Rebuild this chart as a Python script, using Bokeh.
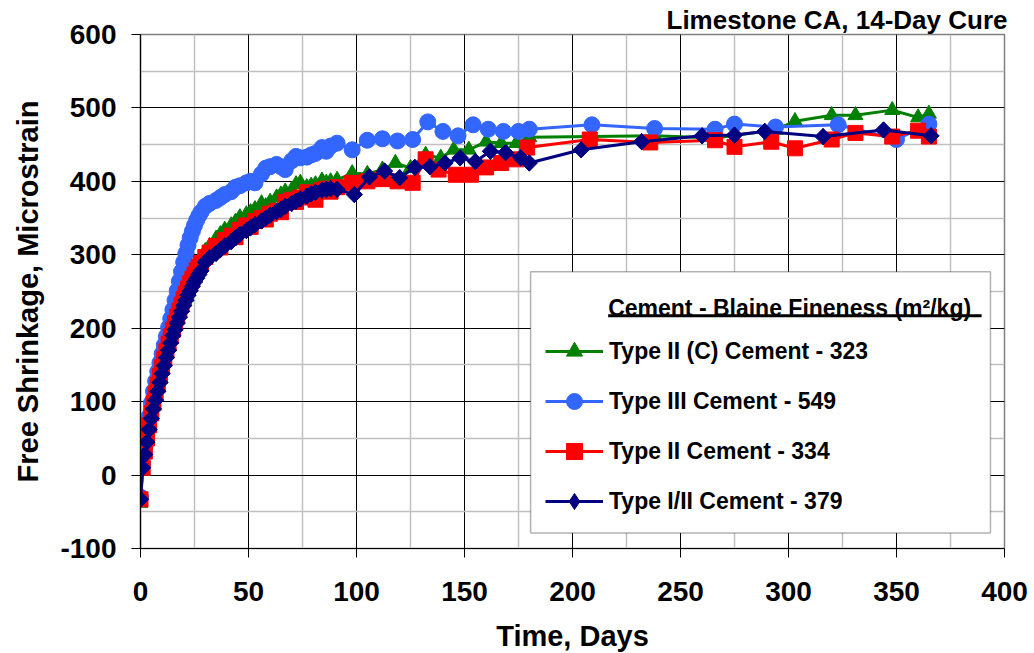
import math
from bokeh.plotting import figure
from bokeh.models import (Range1d, FixedTicker, Legend, LegendItem, Label, BoxAnnotation,
                          PrintfTickFormatter)
from bokeh.embed import file_html
from bokeh.resources import INLINE

# ---------------- data ----------------
x_ticks = [0, 50, 100, 150, 200, 250, 300, 350, 400]
y_ticks = [-100, 0, 100, 200, 300, 400, 500, 600]

chart_title = "Limestone CA, 14-Day Cure"
legend_title = "Cement - Blaine Fineness (m\u00b2/kg)"
series_names = [
    "Type II (C) Cement - 323",
    "Type III Cement - 549",
    "Type II Cement - 334",
    "Type I/II Cement - 379",
]

green_days = [0, 1, 2, 3, 4, 5, 6, 7, 8, 9, 10, 11, 12, 13, 14, 15, 16, 17, 18, 19, 20,
              21, 22, 23, 24, 25, 26, 27, 28, 30, 32, 35, 37, 39, 42, 44, 46, 49, 51, 53,
              56, 58, 60, 63, 65, 67, 70, 72, 74, 77, 79, 81, 84, 86, 88, 91, 98, 105, 112,
              118, 125, 132, 139, 145, 152, 160, 167, 174, 180, 209, 238, 266, 294, 303,
              320, 331, 348, 360, 365]
green_vals = [-38, 6, 28, 47, 65, 81, 96, 109, 121, 133, 145, 156, 167, 177, 187, 197, 206,
              215, 224, 232, 240, 248, 256, 263, 270, 277, 284, 290, 296, 305, 312, 322, 328,
              334, 340, 345, 351, 355, 358, 362, 370, 366, 372, 378, 382, 386, 388, 396, 398,
              392, 394, 396, 401, 398, 400, 402, 411, 410, 416, 425, 418, 436, 432, 443, 443,
              454, 452, 452, 460, 461, 462, 459, 470, 482, 490, 490, 497, 487, 492]

blue_days = [0, 1, 2, 3, 4, 5, 6, 7, 8, 9, 10, 11, 12, 13, 14, 15, 16, 17, 18, 19, 20,
             21, 22, 23, 24, 25, 26, 27, 28, 30, 32, 35, 37, 39, 42, 44, 46, 49, 51, 53,
             56, 58, 60, 63, 65, 67, 70, 72, 74, 77, 79, 81, 84, 86, 88, 91, 98, 105, 112,
             119, 126, 133, 140, 147, 154, 161, 168, 175, 180, 209, 238, 266, 275, 294,
             323, 350, 365]
blue_vals = [-30, 15, 38, 60, 80, 98, 114, 128, 141, 153, 165, 177, 189, 201, 213, 225, 238,
             251, 264, 277, 290, 302, 313, 323, 332, 340, 347, 353, 358, 366, 370, 374, 378,
             382, 386, 392, 394, 398, 400, 398, 410, 418, 420, 423, 420, 416, 428, 434, 432,
             433, 436, 438, 446, 441, 448, 452, 443, 456, 458, 455, 457, 481, 468, 462, 477,
             471, 468, 468, 471, 477, 472, 471, 478, 474, 477, 457, 478]

red_days = [0, 1, 2, 3, 4, 5, 6, 7, 8, 9, 10, 11, 12, 13, 14, 15, 16, 17, 18, 19, 20,
            21, 22, 23, 24, 25, 26, 27, 28, 30, 32, 35, 37, 39, 42, 44, 46, 49, 51, 53,
            56, 58, 60, 63, 65, 67, 70, 72, 74, 77, 79, 81, 84, 86, 88, 91, 98, 105, 112,
            119, 126, 132, 138, 146, 153, 160, 167, 174, 179, 208, 236, 266, 275, 292,
            303, 320, 331, 348, 360, 365]
red_vals = [-33, 10, 32, 50, 68, 84, 98, 111, 123, 135, 147, 158, 169, 179, 189, 198, 207,
            216, 224, 232, 240, 247, 254, 261, 267, 273, 279, 284, 289, 297, 303, 312, 310,
            320, 326, 324, 334, 340, 338, 346, 350, 348, 356, 360, 358, 372, 375, 372, 378,
            385, 380, 375, 388, 390, 386, 392, 398, 400, 403, 400, 398, 430, 416, 409, 409,
            419, 425, 430, 446, 457, 453, 456, 447, 454, 445, 457, 466, 461, 469, 461]

navy_days = [0, 1, 2, 3, 4, 5, 6, 7, 8, 9, 10, 11, 12, 13, 14, 15, 16, 17, 18, 19, 20,
             21, 22, 23, 24, 25, 26, 27, 28, 30, 32, 35, 37, 39, 42, 44, 46, 49, 51, 53,
             56, 58, 60, 63, 65, 67, 70, 72, 74, 77, 79, 81, 84, 86, 88, 91, 99, 106, 113,
             120, 127, 134, 141, 148, 155, 162, 169, 176, 180, 204, 232, 260, 275, 289,
             316, 344, 366]
navy_vals = [-33, 10, 28, 45, 62, 77, 90, 102, 114, 126, 138, 149, 160, 170, 180, 190, 198,
             207, 215, 223, 231, 238, 245, 251, 257, 263, 268, 273, 278, 290, 296, 302, 307,
             312, 318, 323, 328, 333, 337, 341, 346, 350, 354, 359, 362, 366, 370, 373, 376,
             380, 383, 385, 388, 389, 390, 389, 382, 406, 414, 405, 419, 420, 425, 432, 427,
             441, 439, 432, 425, 443, 454, 462, 463, 468, 461, 470, 462]

# ---------------- figure ----------------
FONT = "Liberation Sans"

p = figure(frame_width=864, frame_height=514,
           min_border_left=140, min_border_right=24, min_border_top=34, min_border_bottom=89,
           x_range=Range1d(0, 400), y_range=Range1d(-100, 600),
           output_backend="svg", toolbar_location=None,
           background_fill_color="white", border_fill_color="white")

p.title.text = chart_title
p.title.align = "right"
p.title.text_font = FONT
p.title.text_font_style = "bold"
p.title.text_font_size = "26px"
p.title.text_color = "black"
p.title.standoff = 0
p.title.offset = -3

p.xaxis.ticker = FixedTicker(ticks=x_ticks, minor_ticks=[25 + 50 * i for i in range(8)])
p.yaxis.ticker = FixedTicker(ticks=y_ticks, minor_ticks=[-50 + 100 * i for i in range(7)])
p.xaxis.formatter = PrintfTickFormatter(format="%d")
p.yaxis.formatter = PrintfTickFormatter(format="%d")

for g in (p.xgrid, p.ygrid):
    g.grid_line_color = "black"
    g.grid_line_width = 1
    g.minor_grid_line_color = "#c0c0c0"
    g.minor_grid_line_width = 1.5

p.outline_line_color = "#808080"
p.outline_line_width = 1.5

for ax in (p.xaxis, p.yaxis):
    ax.axis_line_color = "black"
    ax.axis_line_width = 1.2
    ax.major_tick_out = 9
    ax.major_tick_in = 0
    ax.major_tick_line_color = "black"
    ax.minor_tick_out = 0
    ax.minor_tick_in = 0
    ax.major_label_text_font = FONT
    ax.major_label_text_font_style = "bold"
    ax.major_label_text_font_size = "28px"
    ax.major_label_text_color = "black"
    ax.axis_label_text_font = FONT
    ax.axis_label_text_font_style = "bold"
    ax.axis_label_text_font_size = "29px"
    ax.axis_label_text_color = "black"

p.xaxis.axis_label = "Time, Days"
p.yaxis.axis_label = "Free Shrinkage, Microstrain"
p.xaxis.major_label_standoff = 24
p.yaxis.major_label_standoff = 15
p.xaxis.axis_label_standoff = 16
p.yaxis.axis_label_standoff = 13

# ---------------- series ----------------
specs = [
    (green_days, green_vals, "#008000", "triangle", 15, 0.0, None),
    (blue_days, blue_vals, "#3366FF", "circle", 16, 0.0, None),
    (red_days, red_vals, "#FF0000", "square", 15, 0.0, None),
    (navy_days, navy_vals, "#000080", "square", 11.5, math.pi / 4, "diamond"),
]

items = []
for (xs, ys, col, mk, sz, ang, leg_mk), name in zip(specs, series_names):
    ln = p.line(xs, ys, line_color=col, line_width=3)
    rends = [ln]
    if leg_mk is not None:
        # diamond glyph under the rotated squares, used as the legend sample
        under = p.scatter(xs, ys, marker=leg_mk, size=16, fill_color=col, line_color=col)
        rends.append(under)
    sc = p.scatter(xs, ys, marker=mk, size=sz, angle=ang,
                   fill_color=col, line_color=col, line_width=1)
    if leg_mk is None:
        rends.append(sc)
    items.append(LegendItem(label=name, renderers=rends))

# ---------------- legend ----------------
box = BoxAnnotation(left=180.6, right=393.5, top=277, bottom=-79,
                    fill_color="white", fill_alpha=1.0,
                    line_color="black", line_width=1.5)
p.add_layout(box)

title = Label(x=216.5, y=227, text=legend_title,
              text_font=FONT, text_font_style="bold", text_font_size="23px",
              text_color="black", text_baseline="alphabetic")
p.add_layout(title)

underline = BoxAnnotation(left=216.5, right=389.4, top=219, bottom=215,
                          fill_color="black", fill_alpha=1.0, line_alpha=0)
p.add_layout(underline)

legend = Legend(items=items, location=(405, 27),
                glyph_width=58, glyph_height=40, label_height=20,
                label_standoff=6, spacing=10, padding=0, margin=0,
                border_line_alpha=0, background_fill_alpha=0,
                label_text_font=FONT, label_text_font_style="bold",
                label_text_font_size="23px", label_text_color="black")
p.add_layout(legend)

open("out.html", "w").write(file_html(p, INLINE))
